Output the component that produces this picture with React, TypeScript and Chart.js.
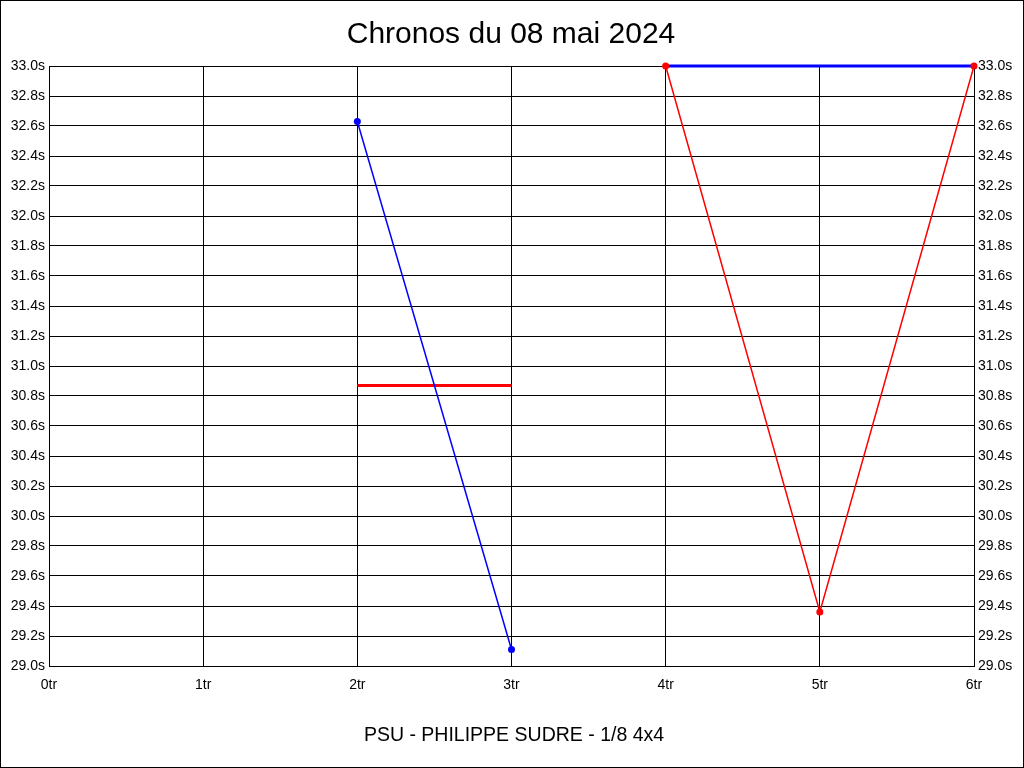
import React, { useEffect, useRef } from "react";
import { Chart, registerables } from "chart.js";

Chart.register(...registerables);

const TITLE = "Chronos du 08 mai 2024";
const SUBTITLE = "PSU - PHILIPPE SUDRE - 1/8 4x4";

const xTicks = [0, 1, 2, 3, 4, 5, 6];
const blueLaps = [2, 3];
const blueTimes = [32.63, 29.11];
const redLaps = [4, 5, 6];
const redTimes = [33.0, 29.36, 33.0];
const redAvgLaps = [2, 3];
const redAvgTimes = [30.87, 30.87];
const blueAvgLaps = [4, 6];
const blueAvgTimes = [33.0, 33.0];

const Y_MIN = 29.0;
const Y_MAX = 33.0;
const Y_STEP = 0.2;

const FONT = "'Liberation Sans', Arial, sans-serif";

const toPts = (xs: number[], ys: number[]) => xs.map((x, i) => ({ x, y: ys[i] }));

const framePlugin = {
  id: "frameAndTexts",
  afterDraw(chart: any) {
    const ctx = chart.ctx;
    ctx.save();
    ctx.strokeStyle = "#000";
    ctx.lineWidth = 1;
    ctx.strokeRect(0.5, 0.5, chart.width - 1, chart.height - 1);
    ctx.fillStyle = "#000";
    ctx.textAlign = "center";
    ctx.textBaseline = "alphabetic";
    ctx.font = `30px ${FONT}`;
    ctx.fillText(TITLE, 511, 43);
    ctx.font = `19.5px ${FONT}`;
    ctx.fillText(SUBTITLE, 514, 741);
    ctx.restore();
  },
};

export default function App() {
  const ref = useRef<HTMLCanvasElement | null>(null);
  useEffect(() => {
    if (!ref.current) return;
    Chart.defaults.font.family = FONT;
    const chart = new Chart(ref.current, {
      type: "line",
      data: {
        datasets: [
          {
            data: toPts(blueLaps, blueTimes),
            borderColor: "#0000ff",
            backgroundColor: "#0000ff",
            borderWidth: 1.5,
            pointRadius: 3.5,
            pointBorderWidth: 0,
            clip: false as any,
          },
          {
            data: toPts(redLaps, redTimes),
            borderColor: "#ff0000",
            backgroundColor: "#ff0000",
            borderWidth: 1.5,
            pointRadius: 3.5,
            pointBorderWidth: 0,
            clip: false as any,
          },
          {
            data: toPts(redAvgLaps, redAvgTimes),
            borderColor: "#ff0000",
            borderWidth: 3,
            pointRadius: 0,
            clip: false as any,
          },
          {
            data: toPts(blueAvgLaps, blueAvgTimes),
            borderColor: "#0000ff",
            borderWidth: 3,
            pointRadius: 0,
            clip: false as any,
          },
        ],
      },
      options: {
        animation: false,
        responsive: false,
        devicePixelRatio: 1,
        layout: { padding: { top: 66, left: 0, right: 0, bottom: 0 } },
        plugins: {
          legend: { display: false },
          tooltip: { enabled: false },
          title: { display: false },
        },
        scales: {
          x: {
            type: "linear",
            min: xTicks[0],
            max: xTicks[xTicks.length - 1],
            afterBuildTicks: (s: any) => {
              s.ticks = xTicks.map((v) => ({ value: v }));
            },
            afterFit: (s: any) => {
              s.height = 102;
            },
            grid: { color: "#000", lineWidth: 1, drawTicks: false },
            border: { color: "#000", width: 1 },
            ticks: {
              color: "#000",
              font: { size: 14 },
              padding: 11,
              maxRotation: 0,
              callback: (v: any) => `${v}tr`,
            },
          },
          y: {
            type: "linear",
            position: "left",
            min: Y_MIN,
            max: Y_MAX,
            afterFit: (s: any) => {
              s.width = 49;
            },
            grid: { color: "#000", lineWidth: 1, drawTicks: false },
            border: { color: "#000", width: 1 },
            ticks: {
              stepSize: Y_STEP,
              color: "#000",
              font: { size: 14 },
              padding: 4,
              callback: (v: any) => `${Number(v).toFixed(1)}s`,
            },
          },
          y2: {
            type: "linear",
            position: "right",
            min: Y_MIN,
            max: Y_MAX,
            afterFit: (s: any) => {
              s.width = 50;
            },
            grid: { drawOnChartArea: false, drawTicks: false },
            border: { color: "#000", width: 1 },
            ticks: {
              stepSize: Y_STEP,
              color: "#000",
              font: { size: 14 },
              padding: 4,
              callback: (v: any) => `${Number(v).toFixed(1)}s`,
            },
          },
        },
      },
      plugins: [framePlugin],
    });
    return () => chart.destroy();
  }, []);
  return (
    <div style={{ position: "absolute", left: 0, top: 0, width: 1024, height: 768, background: "#fff" }}>
      <canvas ref={ref} width={1024} height={768} style={{ display: "block" }} />
    </div>
  );
}
